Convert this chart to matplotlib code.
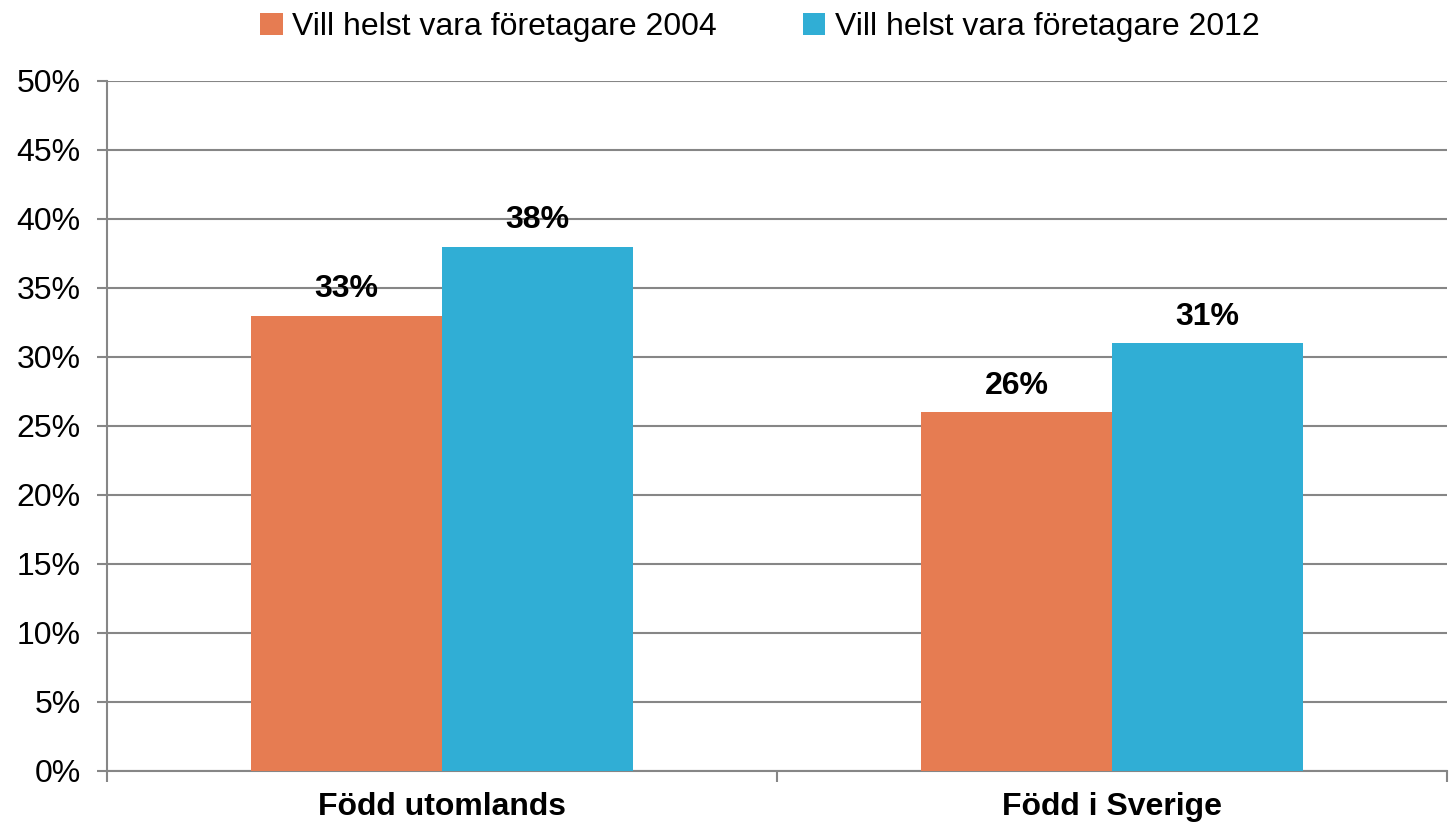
import matplotlib
matplotlib.use("Agg")
import matplotlib.pyplot as plt
import numpy as np
from matplotlib.ticker import FuncFormatter, MultipleLocator

plt.rcParams["font.family"] = ["Liberation Sans", "DejaVu Sans"]

# Data
categories = ["Född utomlands", "Född i Sverige"]
series_names = ["Vill helst vara företagare 2004", "Vill helst vara företagare 2012"]
values_2004 = [33, 26]
values_2012 = [38, 31]
colors = ["#E67C52", "#30AED5"]

fig = plt.figure(figsize=(14.5, 8.23), dpi=100)
ax = fig.add_axes([0.0738, 0.0632, 0.9242, 0.8384])

x = np.arange(len(categories))
w = 0.285
bars_a = ax.bar(x - w / 2, values_2004, w, color=colors[0], label=series_names[0], zorder=3)
bars_b = ax.bar(x + w / 2, values_2012, w, color=colors[1], label=series_names[1], zorder=3)

# etiketter ovanför staplarna
for bars in (bars_a, bars_b):
    for b in bars:
        h = b.get_height()
        ax.annotate(f"{h:.0f}%", (b.get_x() + b.get_width() / 2, h),
                    xytext=(0, 8), textcoords="offset points",
                    ha="center", va="bottom", fontsize=23, fontweight="bold", zorder=5)

ax.set_xlim(-0.5, len(categories) - 0.5)
ax.set_ylim(0, 50)
ax.yaxis.set_major_locator(MultipleLocator(5))
ax.yaxis.set_major_formatter(FuncFormatter(lambda v, p: f"{v:.0f}%"))
ax.tick_params(axis="y", labelsize=23, length=7, width=1.5, color="#868686", pad=12)

ax.set_xticks(x)
ax.set_xticklabels(categories, fontsize=23, fontweight="bold")
ax.set_xticks(np.arange(-0.5, len(categories)), minor=True)
ax.tick_params(axis="x", which="major", length=0, pad=15)
ax.tick_params(axis="x", which="minor", length=8, width=1.5, color="#868686")

ax.grid(axis="y", color="#868686", linewidth=1.5, zorder=0)
ax.set_axisbelow(True)
for s in ("top", "right"):
    ax.spines[s].set_visible(False)
for s in ("left", "bottom"):
    ax.spines[s].set_color("#868686")
    ax.spines[s].set_linewidth(1.5)

fig.legend(loc="center", bbox_to_anchor=(760 / 1450, 1 - 27 / 823), ncol=2, frameon=False,
           fontsize=23, handlelength=0.7, handleheight=0.7, handletextpad=0.3, columnspacing=2.7)

fig.savefig("out.png", dpi=100)
